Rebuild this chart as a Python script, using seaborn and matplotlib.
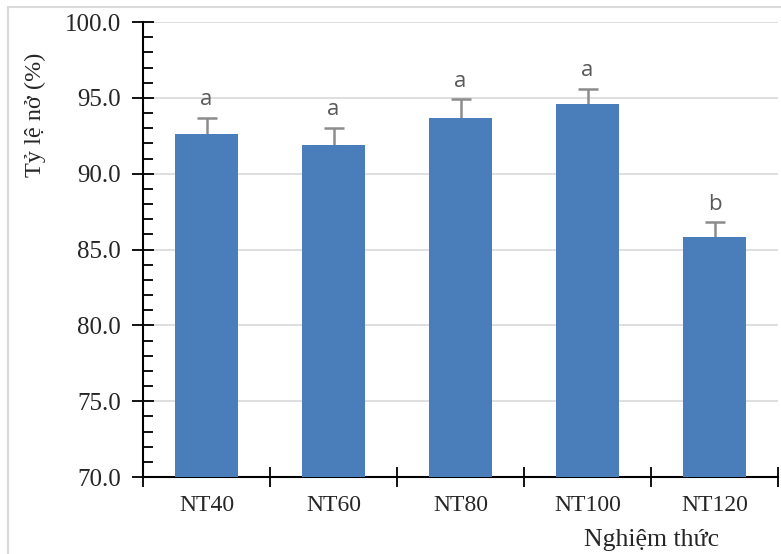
import matplotlib
matplotlib.use("Agg")
import matplotlib.pyplot as plt
from matplotlib.ticker import MultipleLocator, FormatStrFormatter
from matplotlib.patches import Rectangle
import seaborn as sns
import pandas as pd

treatments = ["NT40", "NT60", "NT80", "NT100", "NT120"]
hatch_rate = [92.6, 91.9, 93.7, 94.6, 85.8]
std_err = [1.1, 1.1, 1.2, 1.0, 1.0]
letters = ["a", "a", "a", "a", "b"]

df = pd.DataFrame({"treatment": treatments, "rate": hatch_rate})

sns.set_style("white")
plt.rcParams["font.family"] = ["Liberation Serif", "DejaVu Serif"]

fig = plt.figure(figsize=(7.81, 5.54), dpi=100)
fig.patches.append(Rectangle((8 / 781, -0.1), 1.2, (554 - 7) / 554 + 0.1,
                             transform=fig.transFigure, fill=False,
                             edgecolor="#d9d9d9", linewidth=1.5))
ax = fig.add_axes([143 / 781, 1 - 477 / 554, (778 - 143) / 781, (477 - 22) / 554])

sns.barplot(data=df, x="treatment", y="rate", ax=ax, color="#4a7ebb",
            saturation=1, width=0.5, errorbar=None, edgecolor="none", zorder=3)

# error bars sit behind the bars so only the upper half shows
centers = [p.get_x() + p.get_width() / 2 for p in ax.patches]
ax.errorbar(centers, hatch_rate, yerr=std_err, fmt="none",
            ecolor="#8c8c8c", elinewidth=1.8, capsize=7, capthick=1.8, zorder=2)

for x, v, e, t in zip(centers, hatch_rate, std_err, letters):
    ax.text(x, v + e + 1.2, t, ha="center", va="center", fontsize=16,
            color="#595959", family=["Open Sans", "DejaVu Sans"])

ax.set_ylim(70, 100)
ax.set_xlim(-0.5, len(treatments) - 0.5)
ax.yaxis.set_major_locator(MultipleLocator(5))
ax.yaxis.set_minor_locator(MultipleLocator(1))
ax.yaxis.set_major_formatter(FormatStrFormatter("%.1f"))
ax.set_xticks([i - 0.5 for i in range(len(treatments) + 1)], minor=True)
ax.tick_params(axis="both", which="both", left=True, bottom=True)
ax.tick_params(axis="x", which="major", length=0, pad=13, labelsize=17)
ax.tick_params(axis="x", which="minor", direction="inout", length=14, width=1.3, color="black")
ax.tick_params(axis="y", which="major", direction="inout", length=16, width=1.3,
               color="black", pad=8, labelsize=18)
ax.tick_params(axis="y", which="minor", direction="in", length=7, width=1.3, color="black")

ax.grid(axis="y", which="major", color="#d9d9d9", linewidth=1.2, zorder=0)
ax.set_axisbelow(True)
for side in ("top", "right"):
    ax.spines[side].set_visible(False)
for side in ("left", "bottom"):
    ax.spines[side].set_color("black")
    ax.spines[side].set_linewidth(1.5)

ax.set_xlabel("")
ax.set_ylabel("")
fig.text(35 / 781, 1 - 115 / 554, "Tỷ lệ nở (%)", rotation=90, ha="center", va="center",
         fontsize=17.5)
fig.text(652 / 781, 1 - 546 / 554, "Nghiệm thức", ha="center", va="baseline", fontsize=18.5)

fig.savefig("out.png", dpi=100)
